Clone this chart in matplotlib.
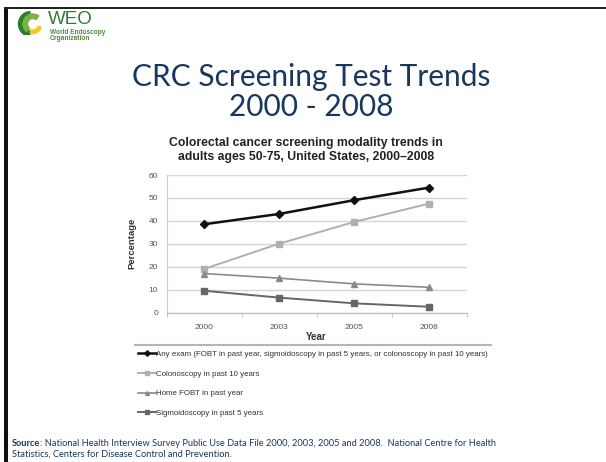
import matplotlib
matplotlib.use("Agg")
import matplotlib.pyplot as plt
from matplotlib.patches import Wedge, Rectangle
from matplotlib.lines import Line2D

# ---- data ----
years = ["2000", "2003", "2005", "2008"]
any_exam = [38.5, 43.0, 49.0, 54.5]
colonoscopy = [19.0, 30.0, 39.5, 47.5]
home_fobt = [17.0, 15.0, 12.5, 11.0]
sigmoidoscopy = [9.5, 6.5, 4.0, 2.5]
series_labels = [
    "Any exam (FOBT in past year, sigmoidoscopy in past 5 years, or colonoscopy in past 10 years)",
    "Colonoscopy in past 10 years",
    "Home FOBT in past year",
    "Sigmoidoscopy in past 5 years",
]
y_ticks = [0, 10, 20, 30, 40, 50, 60]

W, H = 606, 462
fig = plt.figure(figsize=(W / 100, H / 100), dpi=100)
fig.patch.set_facecolor("white")

TITLE_FONT = ["Lato", "DejaVu Sans"]
NARROW = ["Liberation Sans Narrow", "Liberation Sans", "DejaVu Sans"]
ARIAL = ["Liberation Sans", "DejaVu Sans"]
NAVY = "#17375e"


def fx(px):
    return px / W


def fy(py):
    return 1 - py / H


# ---- slide frame ----
fig.add_artist(Rectangle((fx(4), fy(462)), fx(4), fy(8) - fy(462),
                         transform=fig.transFigure, color="#111111", lw=0))
fig.add_artist(Rectangle((fx(4), fy(9)), 1, fy(7) - fy(9),
                         transform=fig.transFigure, color="#222222", lw=0))

# ---- logo ----
lax = fig.add_axes([fx(14), fy(35), fx(32), fy(11) - fy(35)])
lax.set_xlim(0, 32)
lax.set_ylim(0, 24)
lax.set_aspect("equal")
lax.axis("off")
lax.add_patch(Wedge((17, 11), 12.5, 95, 265, width=5.5, color="#2e7d32"))
lax.add_patch(Wedge((19, 11), 10, 55, 230, width=4.5, color="#7cb342"))
lax.add_patch(Wedge((19, 10), 8.5, 250, 345, width=3.5, color="#f9c623"))
fig.text(fx(48), fy(23.5), "WEO", fontsize=13.5, color="#2e7d32",
         family=ARIAL, va="baseline", ha="left")
fig.text(fx(50), fy(32), "World Endoscopy", fontsize=4.7, color="#4e8a3a",
         family=ARIAL, va="center", ha="left", fontweight="bold")
fig.text(fx(50), fy(39), "Organization", fontsize=4.7, color="#4e8a3a",
         family=ARIAL, va="center", ha="left", fontweight="bold")

# ---- slide title ----
fig.text(fx(311), fy(77), "CRC Screening Test Trends", fontsize=21.5,
         color=NAVY, family=TITLE_FONT, ha="center", va="center")
fig.text(fx(311), fy(107), "2000 - 2008", fontsize=21.5,
         color=NAVY, family=TITLE_FONT, ha="center", va="center")

# ---- chart title ----
fig.text(fx(306), fy(143), "Colorectal cancer screening modality trends in",
         fontsize=8.8, fontweight="bold", color="#222222", family=ARIAL,
         ha="center", va="center")
fig.text(fx(306), fy(157), "adults ages 50-75, United States, 2000\u20132008",
         fontsize=8.8, fontweight="bold", color="#222222", family=ARIAL,
         ha="center", va="center")

# ---- chart ----
ax = fig.add_axes([fx(166.5), fy(312.5), fx(300), fy(175) - fy(312.5)])
x = list(range(len(years)))
h1, = ax.plot(x, any_exam, color="#111111", lw=1.8, marker="D", ms=4)
h2, = ax.plot(x, colonoscopy, color="#b0b0b0", lw=1.4, marker="s", ms=4)
h3, = ax.plot(x, home_fobt, color="#8a8a8a", lw=1.2, marker="^", ms=4)
h4, = ax.plot(x, sigmoidoscopy, color="#666666", lw=1.4, marker="s", ms=5)

ax.set_xlim(-0.5, len(years) - 0.5)
ax.set_ylim(0, 60)
ax.set_yticks(y_ticks)
ax.set_xticks(x)
ax.set_xticklabels(years)
ax.set_xticks([i - 0.5 for i in range(len(years) + 1)], minor=True)
ax.tick_params(axis="both", which="major", length=0, labelsize=6,
               labelcolor="#555555")
ax.tick_params(axis="x", which="major", pad=8)
ax.tick_params(axis="y", which="major", pad=6)
ax.tick_params(axis="x", which="minor", length=3, color="#bbbbbb")
for lbl in ax.get_xticklabels() + ax.get_yticklabels():
    lbl.set_family(ARIAL)
ax.grid(axis="y", color="#d4d4d4", lw=1.0)
ax.set_axisbelow(True)
for s in ["top", "right"]:
    ax.spines[s].set_visible(False)
ax.spines["left"].set_color("#cccccc")
ax.spines["bottom"].set_color("#bbbbbb")
ax.set_ylabel("Percentage", fontsize=6.8, fontweight="bold",
              color="#333333", family=ARIAL, labelpad=9)
ax.set_xlabel("Year", fontsize=7, fontweight="bold", color="#333333",
              family=ARIAL, labelpad=1)

# ---- legend ----
fig.add_artist(Line2D([fx(135), fx(491)], [fy(345), fy(345)],
                      transform=fig.transFigure, color="#b5b5b5", lw=1.5))
leg = fig.legend([h1, h2, h3, h4], series_labels, loc="upper left",
                 bbox_to_anchor=(fx(135), fy(347)), frameon=False,
                 prop={"family": NARROW, "size": 5.7},
                 handlelength=2.2, handletextpad=0.1, labelspacing=1.55,
                 borderaxespad=0, markerscale=0.7, labelcolor="#333333")

# ---- source ----
src = fig.text(fx(12), fy(446), "Source", fontsize=6.7, color=NAVY,
               fontweight="bold", family=TITLE_FONT, va="baseline", ha="left")
renderer = fig.canvas.get_renderer()
bb = src.get_window_extent(renderer)
fig.text(bb.x1 / W, fy(446),
         ": National Health Interview Survey Public Use Data File 2000, 2003, 2005 and 2008.  National Centre for Health",
         fontsize=6.7, color=NAVY, family=TITLE_FONT, va="baseline", ha="left")
fig.text(fx(12), fy(457),
         "Statistics, Centers for Disease Control and Prevention.",
         fontsize=6.7, color=NAVY, family=TITLE_FONT, va="baseline", ha="left")

fig.savefig("out.png", dpi=100)
